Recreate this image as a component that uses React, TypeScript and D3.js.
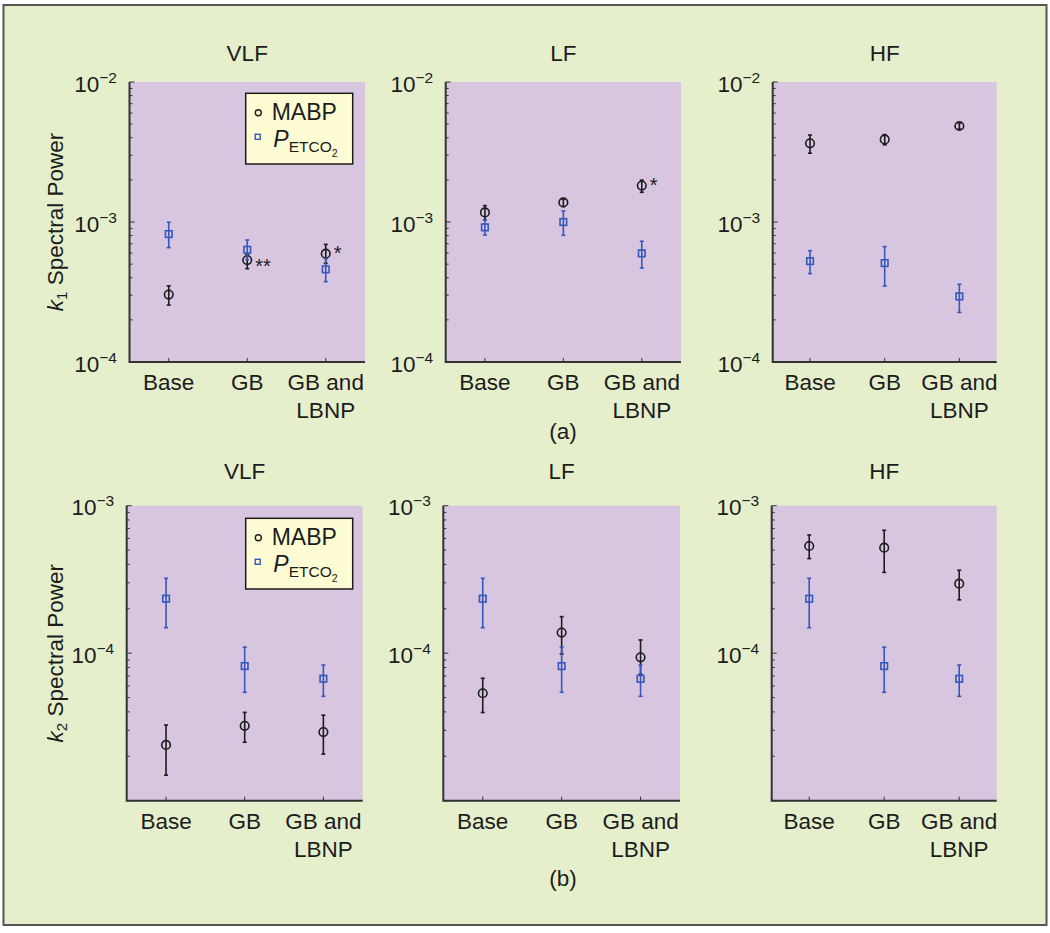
import React from "react";
import * as d3 from "d3";

// categories on the x axis (second entry = second line of the label)
const categories = [["Base"], ["GB"], ["GB and", "LBNP"]];
const bands = ["VLF", "LF", "HF"];

// k1 spectral power, [band][category]
const k1Mabp = [
  [3.03e-4, 5.35e-4, 5.94e-4],
  [1.17e-3, 1.38e-3, 1.82e-3],
  [3.65e-3, 3.89e-3, 4.85e-3],
];
const k1MabpLo = [
  [2.55e-4, 4.64e-4, 5.07e-4],
  [1.03e-3, 1.29e-3, 1.63e-3],
  [3.1e-3, 3.56e-3, 4.62e-3],
];
const k1MabpHi = [
  [3.5e-4, 5.9e-4, 6.92e-4],
  [1.31e-3, 1.46e-3, 1.99e-3],
  [4.18e-3, 4.21e-3, 5.07e-3],
];
const k1Pet = [
  [8.2e-4, 6.33e-4, 4.59e-4],
  [9.16e-4, 1.0e-3, 5.97e-4],
  [5.26e-4, 5.09e-4, 2.94e-4],
];
const k1PetLo = [
  [6.56e-4, 5.4e-4, 3.75e-4],
  [8.07e-4, 8.03e-4, 4.69e-4],
  [4.28e-4, 3.49e-4, 2.26e-4],
];
const k1PetHi = [
  [9.96e-4, 7.44e-4, 5.47e-4],
  [1.03e-3, 1.2e-3, 7.28e-4],
  [6.24e-4, 6.67e-4, 3.59e-4],
];

// k2 spectral power, [band][category]
const k2Mabp = [
  [2.39e-5, 3.22e-5, 2.92e-5],
  [5.35e-5, 1.38e-4, 9.37e-5],
  [5.33e-4, 5.19e-4, 2.96e-4],
];
const k2MabpLo = [
  [1.49e-5, 2.49e-5, 2.07e-5],
  [3.96e-5, 9.88e-5, 7.2e-5],
  [4.38e-4, 3.53e-4, 2.3e-4],
];
const k2MabpHi = [
  [3.26e-5, 3.97e-5, 3.8e-5],
  [6.76e-5, 1.77e-4, 1.23e-4],
  [6.33e-4, 6.81e-4, 3.65e-4],
];
const k2Pet = [
  [2.34e-4, 8.18e-5, 6.71e-5],
  [2.34e-4, 8.18e-5, 6.71e-5],
  [2.34e-4, 8.18e-5, 6.71e-5],
];
const k2PetLo = [
  [1.49e-4, 5.43e-5, 5.1e-5],
  [1.49e-4, 5.43e-5, 5.1e-5],
  [1.49e-4, 5.43e-5, 5.1e-5],
];
const k2PetHi = [
  [3.22e-4, 1.1e-4, 8.31e-5],
  [3.22e-4, 1.1e-4, 8.31e-5],
  [3.22e-4, 1.1e-4, 8.31e-5],
];

// significance marks on k1 MABP: [band, category, text]
const k1Stars: [number, number, string][] = [
  [0, 1, "**"],
  [0, 2, "*"],
  [1, 2, "*"],
];

const FONT = "'Liberation Sans', Arial, Helvetica, sans-serif";
const FS = 22.5;
const BG = "#e5efcc";
const PLOT_BG = "#d8c6e0";
const LEGEND_BG = "#fdfcd3";
const BLUE = "#3458be";
const INK = "#1c1c1c";
const AXIS = "#333";

const rows = [
  {
    sub: "1",
    top: 82,
    bottom: 362,
    lefts: [129.5, 445.7, 772.7],
    rights: [365, 681, 996.7],
    domain: [1e-4, 1e-2],
    labelled: [1e-4, 1e-3, 1e-2],
    titleY: 61,
    caption: "(a)",
    captionY: 439,
    legendY: 93.3,
    mabp: k1Mabp, mabpLo: k1MabpLo, mabpHi: k1MabpHi,
    pet: k1Pet, petLo: k1PetLo, petHi: k1PetHi,
    stars: k1Stars,
  },
  {
    sub: "2",
    top: 505.7,
    bottom: 800.7,
    lefts: [126.7, 443.3, 771.7],
    rights: [362.7, 680, 996.7],
    domain: [1e-5, 1e-3],
    labelled: [1e-4, 1e-3],
    titleY: 479,
    caption: "(b)",
    captionY: 886,
    legendY: 518.3,
    mabp: k2Mabp, mabpLo: k2MabpLo, mabpHi: k2MabpHi,
    pet: k2Pet, petLo: k2PetLo, petHi: k2PetHi,
    stars: [] as [number, number, string][],
  },
];

const ErrorPoint = ({ x, y, lo, hi, color, shape }) => (
  <g stroke={color} strokeWidth={1.6} fill="none">
    <line x1={x} x2={x} y1={lo} y2={hi} />
    <line x1={x - 2} x2={x + 2} y1={lo} y2={lo} />
    <line x1={x - 2} x2={x + 2} y1={hi} y2={hi} />
    {shape === "circle" ? (
      <circle cx={x} cy={y} r={4.3} />
    ) : (
      <rect x={x - 3.3} y={y - 3.3} width={6.6} height={6.6} />
    )}
  </g>
);

const Panel = ({ row, band }) => {
  const left = row.lefts[band];
  const right = row.rights[band];
  const x = d3.scaleLinear().domain([0.5, 3.5]).range([left, right]);
  const y = d3.scaleLog().domain(row.domain).range([row.bottom, row.top]);
  const [d0, d1] = row.domain;
  const minor: number[] = [];
  for (let p = d0; p < d1 * 0.99; p *= 10) {
    for (let m = 2; m <= 9; m++) minor.push(p * m);
  }
  const major = y.ticks().filter((t) => Math.abs(Math.log10(t) % 1) < 1e-9);

  return (
    <g>
      <rect x={left} y={row.top} width={right - left} height={row.bottom - row.top} fill={PLOT_BG} />
      <text x={(left + right) / 2} y={row.titleY} textAnchor="middle" fontSize={FS}>
        {bands[band]}
      </text>

      {/* ticks point inwards */}
      <g stroke={AXIS} strokeWidth={1}>
        {minor.map((t) => (
          <line key={t} x1={left} x2={left + 3} y1={y(t)} y2={y(t)} />
        ))}
        {major.map((t) => (
          <line key={"M" + t} x1={left} x2={left + 5} y1={y(t)} y2={y(t)} />
        ))}
        {categories.map((c, i) => (
          <line key={i} x1={x(i + 1)} x2={x(i + 1)} y1={row.bottom} y2={row.bottom - 4} />
        ))}
      </g>
      <path
        d={`M${left},${row.top}V${row.bottom}H${right}`}
        fill="none"
        stroke={AXIS}
        strokeWidth={2}
      />

      {row.labelled.map((t) => (
        <text key={t} x={left - 12.5} y={y(t) + 9.5} textAnchor="end" fontSize={FS}>
          <tspan>10</tspan>
          <tspan dy={-9} fontSize={15.5}>{"\u2212" + Math.round(-Math.log10(t))}</tspan>
        </text>
      ))}

      {categories.map((lines, i) =>
        lines.map((s, j) => (
          <text key={i + "-" + j} x={x(i + 1)} y={row.bottom + 28 + j * 28.3} textAnchor="middle" fontSize={FS}>
            {s}
          </text>
        ))
      )}

      {categories.map((c, i) => (
        <g key={"d" + i}>
          <ErrorPoint
            x={x(i + 1)}
            y={y(row.mabp[band][i])}
            lo={y(row.mabpLo[band][i])}
            hi={y(row.mabpHi[band][i])}
            color={INK}
            shape="circle"
          />
          <ErrorPoint
            x={x(i + 1)}
            y={y(row.pet[band][i])}
            lo={y(row.petLo[band][i])}
            hi={y(row.petHi[band][i])}
            color={BLUE}
            shape="square"
          />
        </g>
      ))}

      {row.stars
        .filter((s) => s[0] === band)
        .map(([b, i, txt]) => (
          <text
            key={"s" + i}
            x={x(i + 1) + 8}
            y={y(row.mabp[band][i]) + (txt === "**" ? 13 : 6)}
            fontSize={20}
            fill={INK}
          >
            {txt}
          </text>
        ))}

      {band === 0 && (
        <g>
          <rect x={245.7} y={row.legendY} width={107} height={70.7} fill={LEGEND_BG} stroke={INK} strokeWidth={1.5} />
          <circle cx={258.3} cy={row.legendY + 19.4} r={3} fill="none" stroke={INK} strokeWidth={1.4} />
          <text x={271.7} y={row.legendY + 26.9} fontSize={23}>MABP</text>
          <rect x={255.2} y={row.legendY + 41} width={5} height={5} fill="none" stroke={BLUE} strokeWidth={1.4} />
          <text x={273.3} y={row.legendY + 53.4} fontSize={23}>
            <tspan fontStyle="italic">P</tspan>
            <tspan fontSize={15.5} dy={5}>ETCO</tspan>
            <tspan fontSize={10.5} dy={5}>2</tspan>
          </text>
        </g>
      )}
    </g>
  );
};

const App = () => {
  return (
    <svg
      width={1050}
      height={933}
      style={{ position: "absolute", left: 0, top: 0, fontFamily: FONT }}
      fill={INK}
    >
      <rect x={0} y={0} width={1050} height={933} fill="#fff" />
      <rect x={3.5} y={5} width={1043} height={920} fill={BG} stroke="#555" strokeWidth={2} />
      {rows.map((row, r) => (
        <g key={r}>
          {bands.map((b, i) => (
            <Panel key={b} row={row} band={i} />
          ))}
          <text
            transform={`translate(63,${(row.top + row.bottom) / 2}) rotate(-90)`}
            textAnchor="middle"
            fontSize={FS}
          >
            <tspan fontStyle="italic">k</tspan>
            <tspan fontSize={15} dy={4}>{row.sub}</tspan>
            <tspan dy={-4}> Spectral Power</tspan>
          </text>
          <text x={563} y={row.captionY} textAnchor="middle" fontSize={FS}>
            {row.caption}
          </text>
        </g>
      ))}
    </svg>
  );
};

export default App;
